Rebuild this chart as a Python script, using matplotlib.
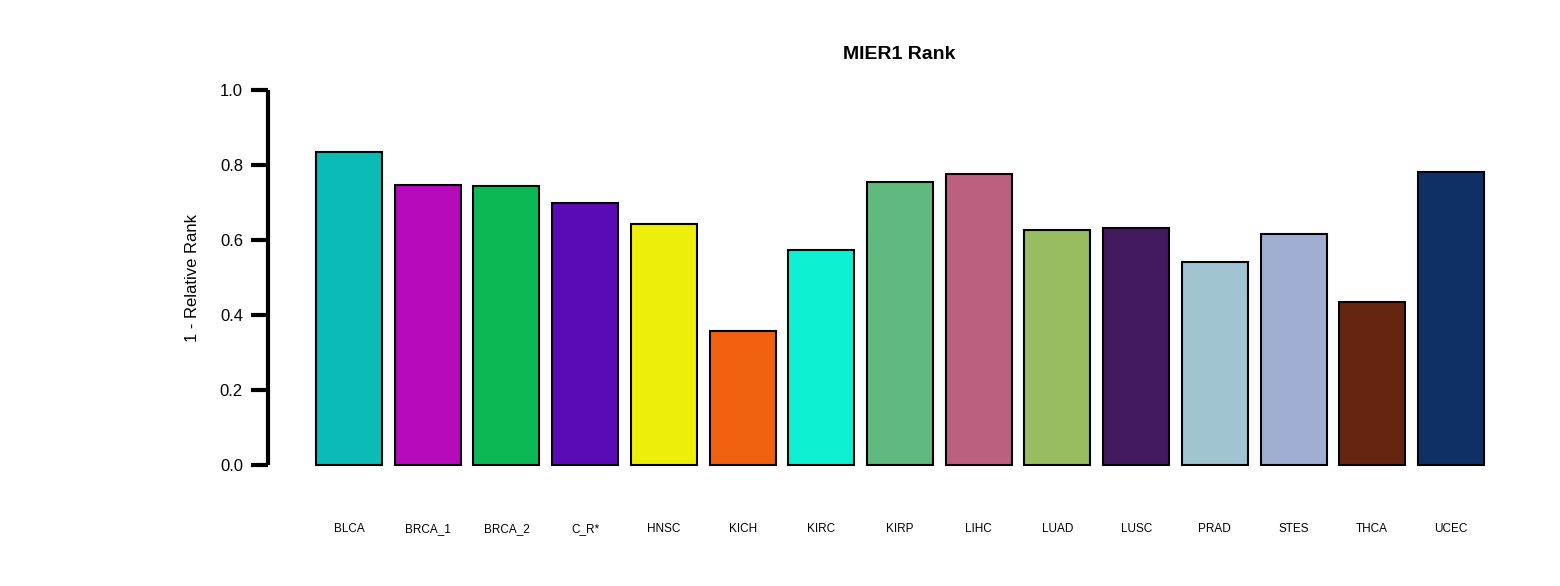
import matplotlib
matplotlib.use('Agg')
import matplotlib.pyplot as plt
import numpy as np

# Values
cancers = ['BLCA', 'BRCA_1', 'BRCA_2', 'C_R*', 'HNSC', 'KICH', 'KIRC', 'KIRP',
           'LIHC', 'LUAD', 'LUSC', 'PRAD', 'STES', 'THCA', 'UCEC']
ranks = [0.835, 0.747, 0.744, 0.699, 0.643, 0.357, 0.573, 0.755,
         0.776, 0.627, 0.632, 0.541, 0.616, 0.435, 0.781]
colors = ['#0BBBB5', '#B50BBB', '#0BB855', '#5B0BB5', '#EEEE0B', '#F06010',
          '#0EF0D2', '#60BA80', '#BC6080', '#98BC60', '#441A5E', '#A0C4D2',
          '#A0AED2', '#662510', '#0E3064']

W, H = 1560, 586
fig = plt.figure(figsize=(W/100, H/100), dpi=100)
# axes placed in pixel coordinates: x 268..1530, y 90..465
ax = fig.add_axes([268/W, 1 - 465/H, (1530-268)/W, (465-90)/H])

x = np.arange(len(cancers))
ax.bar(x, ranks, width=0.84, color=colors, edgecolor='black', linewidth=1.5, clip_on=False)

ax.set_xlim(-(349-268)/78.7, 14 + (1530-1451)/78.7)
ax.set_ylim(0, 1)
ax.set_xticks(x)
ax.set_xticklabels(cancers, fontsize=8.5, family='Arial' if False else 'Liberation Sans')
ax.tick_params(axis='x', length=0, pad=42)
ax.set_yticks(np.arange(0, 1.01, 0.2))
ax.set_yticklabels(['%.1f' % v for v in np.arange(0, 1.01, 0.2)], fontsize=12, family='Liberation Sans')
ax.tick_params(axis='y', length=12, width=3, pad=6)

for s in ['top', 'right', 'bottom']:
    ax.spines[s].set_visible(False)
ax.spines['left'].set_linewidth(3)
ax.spines['left'].set_capstyle('butt')

ax.set_ylabel('1 - Relative Rank', fontsize=12, family='Liberation Sans', labelpad=14)
ax.set_title('MIER1 Rank', fontsize=14, fontweight='bold', family='Liberation Sans', pad=22)

fig.savefig('out.png', dpi=100)
